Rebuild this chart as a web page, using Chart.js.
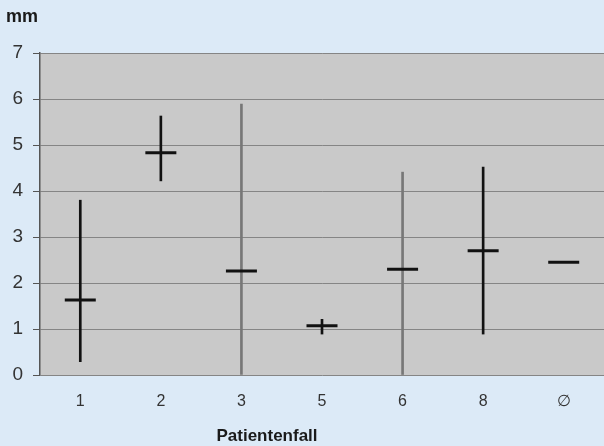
<!DOCTYPE html>
<html>
<head>
<meta charset="utf-8">
<script src="https://cdn.jsdelivr.net/npm/chart.js@4"></script>
<style>
html,body{margin:0;padding:0;background:#dceaf7;}
#wrap{position:relative;width:604px;height:446px;}
</style>
</head>
<body>
<div id="wrap"><canvas id="c" width="604" height="446"></canvas></div>
<script>
const categories = ['1', '2', '3', '5', '6', '8', '\u2205'];
const meanValues = [1.63, 4.83, 2.26, 1.07, 2.30, 2.70, 2.45];
const rangeLow  = [0.29, 4.22, 0.00, 0.89, 0.00, 0.89, null];
const rangeHigh = [3.80, 5.63, 5.89, 1.21, 4.41, 4.52, null];
const rangeColors = ['#111111', '#111111', '#777777', '#111111', '#777777', '#111111', '#111111'];
const yTicks = [0, 1, 2, 3, 4, 5, 6, 7];

const rangeData = rangeLow.map((lo, i) => (lo === null ? null : [lo, rangeHigh[i]]));

const bgPlugin = {
  id: 'bg',
  beforeDraw(chart) {
    const { ctx, chartArea: a } = chart;
    ctx.save();
    ctx.fillStyle = '#dceaf7';
    ctx.fillRect(0, 0, chart.width, chart.height);
    ctx.fillStyle = '#c9c9c9';
    ctx.fillRect(a.left, a.top, a.right - a.left, a.bottom - a.top);
    ctx.restore();
  },
  afterDraw(chart) {
    const { ctx } = chart;
    ctx.save();
    ctx.fillStyle = '#1a1a1a';
    ctx.font = 'bold 18px "Liberation Sans", Arial, sans-serif';
    ctx.textBaseline = 'alphabetic';
    ctx.textAlign = 'left';
    ctx.fillText('mm', 6, 22);
    ctx.font = 'bold 17px "Liberation Sans", Arial, sans-serif';
    ctx.textAlign = 'center';
    ctx.fillText('Patientenfall', 267, 441);
    ctx.restore();
  }
};

new Chart(document.getElementById('c'), {
  data: {
    labels: categories,
    datasets: [
      {
        type: 'line',
        data: meanValues,
        showLine: false,
        pointStyle: 'line',
        pointRadius: 15.5,
        pointHoverRadius: 15.5,
        pointBorderWidth: 3,
        pointBorderColor: '#111111',
        pointBackgroundColor: '#111111',
        order: 0
      },
      {
        type: 'bar',
        data: rangeData,
        backgroundColor: rangeColors,
        borderWidth: 0,
        barThickness: 2,
        grouped: false,
        order: 1
      }
    ]
  },
  options: {
    responsive: false,
    animation: false,
    devicePixelRatio: 1,
    layout: { autoPadding: false, padding: { top: 53, right: 0, left: 0, bottom: 0 } },
    plugins: { legend: { display: false }, tooltip: { enabled: false } },
    scales: {
      x: {
        type: 'category',
        offset: true,
        grid: { display: false, drawTicks: false },
        border: { display: false },
        ticks: {
          color: '#333333',
          padding: 17,
          font: { size: 16, family: '"Liberation Sans", Arial, sans-serif' }
        },
        afterFit(s) { s.height = 71; s.paddingLeft = 0; s.paddingRight = 0; }
      },
      y: {
        min: 0,
        max: 7,
        afterBuildTicks(s) { s.ticks = yTicks.map(v => ({ value: v })); },
        grid: { color: '#858585', lineWidth: 1, tickLength: 7, drawTicks: true, tickColor: '#555555' },
        border: { display: true, color: '#555555', width: 1.5 },
        ticks: {
          color: '#333333',
          padding: 10,
          font: { size: 19, family: '"Liberation Sans", Arial, sans-serif' }
        },
        afterFit(s) { s.width = 40; }
      }
    }
  },
  plugins: [bgPlugin]
});
</script>
</body>
</html>
